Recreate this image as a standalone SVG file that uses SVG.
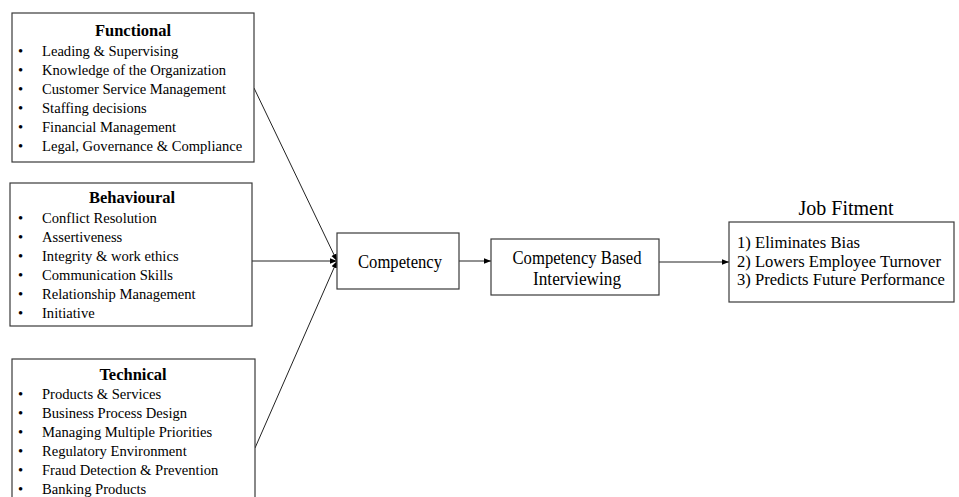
<svg xmlns="http://www.w3.org/2000/svg" width="959" height="497" viewBox="0 0 959 497">
<style>
.box{fill:#fff;stroke:#3a3a3a;stroke-width:1.2}
.t{font-family:"Liberation Serif","Times New Roman",serif;fill:#000}
.title{font-size:16.5px;font-weight:bold;text-anchor:middle}
.item{font-size:14.6px}
.mid{font-size:19px;text-anchor:middle}
.jf{font-size:17px}
.conn{stroke:#222;stroke-width:1;fill:none;marker-end:url(#arr)}
</style>
<defs>
<marker id="arr" viewBox="0 0 10 10" refX="10" refY="5" markerWidth="7" markerHeight="7" markerUnits="userSpaceOnUse" orient="auto">
<path d="M0,1 L10,5 L0,9 z" fill="#000"/>
</marker>
</defs>
<rect width="959" height="497" fill="#fff"/>
<g id="connectors">
<line class="conn" x1="254" y1="88" x2="337" y2="261"/>
<line class="conn" x1="252" y1="261" x2="337" y2="261"/>
<line class="conn" x1="255" y1="448" x2="337" y2="261"/>
<line class="conn" x1="459" y1="261" x2="491" y2="261"/>
<line class="conn" x1="659" y1="262" x2="729" y2="262"/>
</g>
<g id="functional">
<rect class="box" x="12" y="13" width="242" height="149"/>
<text class="t title" x="133" y="36">Functional</text>
<g class="t item">
<text x="18" y="56">•</text><text x="42" y="56">Leading &amp; Supervising</text>
<text x="18" y="75">•</text><text x="42" y="75">Knowledge of the Organization</text>
<text x="18" y="94">•</text><text x="42" y="94">Customer Service Management</text>
<text x="18" y="113">•</text><text x="42" y="113">Staffing decisions</text>
<text x="18" y="132">•</text><text x="42" y="132">Financial Management</text>
<text x="18" y="151">•</text><text x="42" y="151">Legal, Governance &amp; Compliance</text>
</g>
</g>
<g id="behavioural">
<rect class="box" x="10" y="183" width="242" height="143"/>
<text class="t title" x="132" y="203">Behavioural</text>
<g class="t item">
<text x="18" y="223">•</text><text x="42" y="223">Conflict Resolution</text>
<text x="18" y="242">•</text><text x="42" y="242">Assertiveness</text>
<text x="18" y="261">•</text><text x="42" y="261">Integrity &amp; work ethics</text>
<text x="18" y="280">•</text><text x="42" y="280">Communication Skills</text>
<text x="18" y="299">•</text><text x="42" y="299">Relationship Management</text>
<text x="18" y="318">•</text><text x="42" y="318">Initiative</text>
</g>
</g>
<g id="technical">
<rect class="box" x="12" y="359" width="243" height="150"/>
<text class="t title" x="133" y="380">Technical</text>
<g class="t item">
<text x="18" y="399">•</text><text x="42" y="399">Products &amp; Services</text>
<text x="18" y="418">•</text><text x="42" y="418">Business Process Design</text>
<text x="18" y="437">•</text><text x="42" y="437">Managing Multiple Priorities</text>
<text x="18" y="456">•</text><text x="42" y="456">Regulatory Environment</text>
<text x="18" y="475">•</text><text x="42" y="475">Fraud Detection &amp; Prevention</text>
<text x="18" y="494">•</text><text x="42" y="494">Banking Products</text>
</g>
</g>
<g id="competency">
<rect class="box" x="337" y="233" width="122" height="56"/>
<text class="t mid" x="400" y="268" textLength="84" lengthAdjust="spacingAndGlyphs">Competency</text>
</g>
<g id="cbi">
<rect class="box" x="491" y="239" width="168" height="56"/>
<text class="t mid" x="577" y="263.5" textLength="129" lengthAdjust="spacingAndGlyphs">Competency Based</text>
<text class="t mid" x="577" y="285" textLength="88" lengthAdjust="spacingAndGlyphs">Interviewing</text>
</g>
<g id="jobfitment">
<text class="t" x="846" y="215" font-size="20" text-anchor="middle">Job Fitment</text>
<rect class="box" x="729" y="222" width="225" height="80"/>
<text class="t jf" x="737" y="248" textLength="123" lengthAdjust="spacingAndGlyphs">1) Eliminates Bias</text>
<text class="t jf" x="737" y="266.5" textLength="204" lengthAdjust="spacingAndGlyphs">2) Lowers Employee Turnover</text>
<text class="t jf" x="737" y="285" textLength="208" lengthAdjust="spacingAndGlyphs">3) Predicts Future Performance</text>
</g>
</svg>
